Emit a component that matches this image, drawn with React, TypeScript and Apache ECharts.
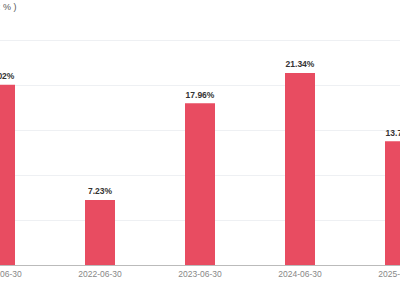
import React, { useEffect, useRef } from "react";
import * as echarts from "echarts";

const categories = ["2021-06-30", "2022-06-30", "2023-06-30", "2024-06-30", "2025-06-30"];
const values = [20.02, 7.23, 17.96, 21.34, 13.75];
const yMax = 25;
const yInterval = 5;

export default function App() {
  const ref = useRef<HTMLDivElement>(null);
  useEffect(() => {
    if (!ref.current) return;
    const chart = echarts.init(ref.current, undefined, { renderer: "svg" });
    chart.setOption({
      animation: false,
      textStyle: { fontFamily: "Liberation Sans, Arial, sans-serif" },
      graphic: [
        {
          type: "text",
          left: 77,
          top: 2,
          style: {
            text: "(单位: % )",
            fontSize: 9,
            fill: "#555",
            fontFamily: "Liberation Sans, Arial, sans-serif",
          },
        },
      ],
      grid: { left: 50, right: 50, top: 40, bottom: 35, containLabel: false },
      xAxis: {
        type: "category",
        data: categories,
        axisTick: { show: false },
        axisLine: { lineStyle: { color: "#bbb" } },
        axisLabel: { color: "#888", fontSize: 8.5, margin: 4 },
      },
      yAxis: {
        type: "value",
        min: 0,
        max: yMax,
        interval: yInterval,
        axisLabel: { show: false },
        axisLine: { show: false },
        axisTick: { show: false },
        splitLine: { lineStyle: { color: "#eef0f3" } },
      },
      series: [
        {
          type: "bar",
          data: values,
          barWidth: "30%",
          itemStyle: { color: "#e84c61" },
          label: {
            show: true,
            position: "top",
            formatter: (p: any) => p.value.toFixed(2) + "%",
            fontSize: 8.5,
            fontWeight: "bold",
            color: "#333",
            distance: 4,
          },
        },
      ],
    });
    return () => chart.dispose();
  }, []);
  return (
    <div style={{ position: "fixed", left: 0, top: 0, width: 400, height: 300, overflow: "hidden", background: "#fff" }}>
      <div ref={ref} style={{ position: "absolute", left: -100, top: 0, width: 600, height: 300 }} />
    </div>
  );
}
